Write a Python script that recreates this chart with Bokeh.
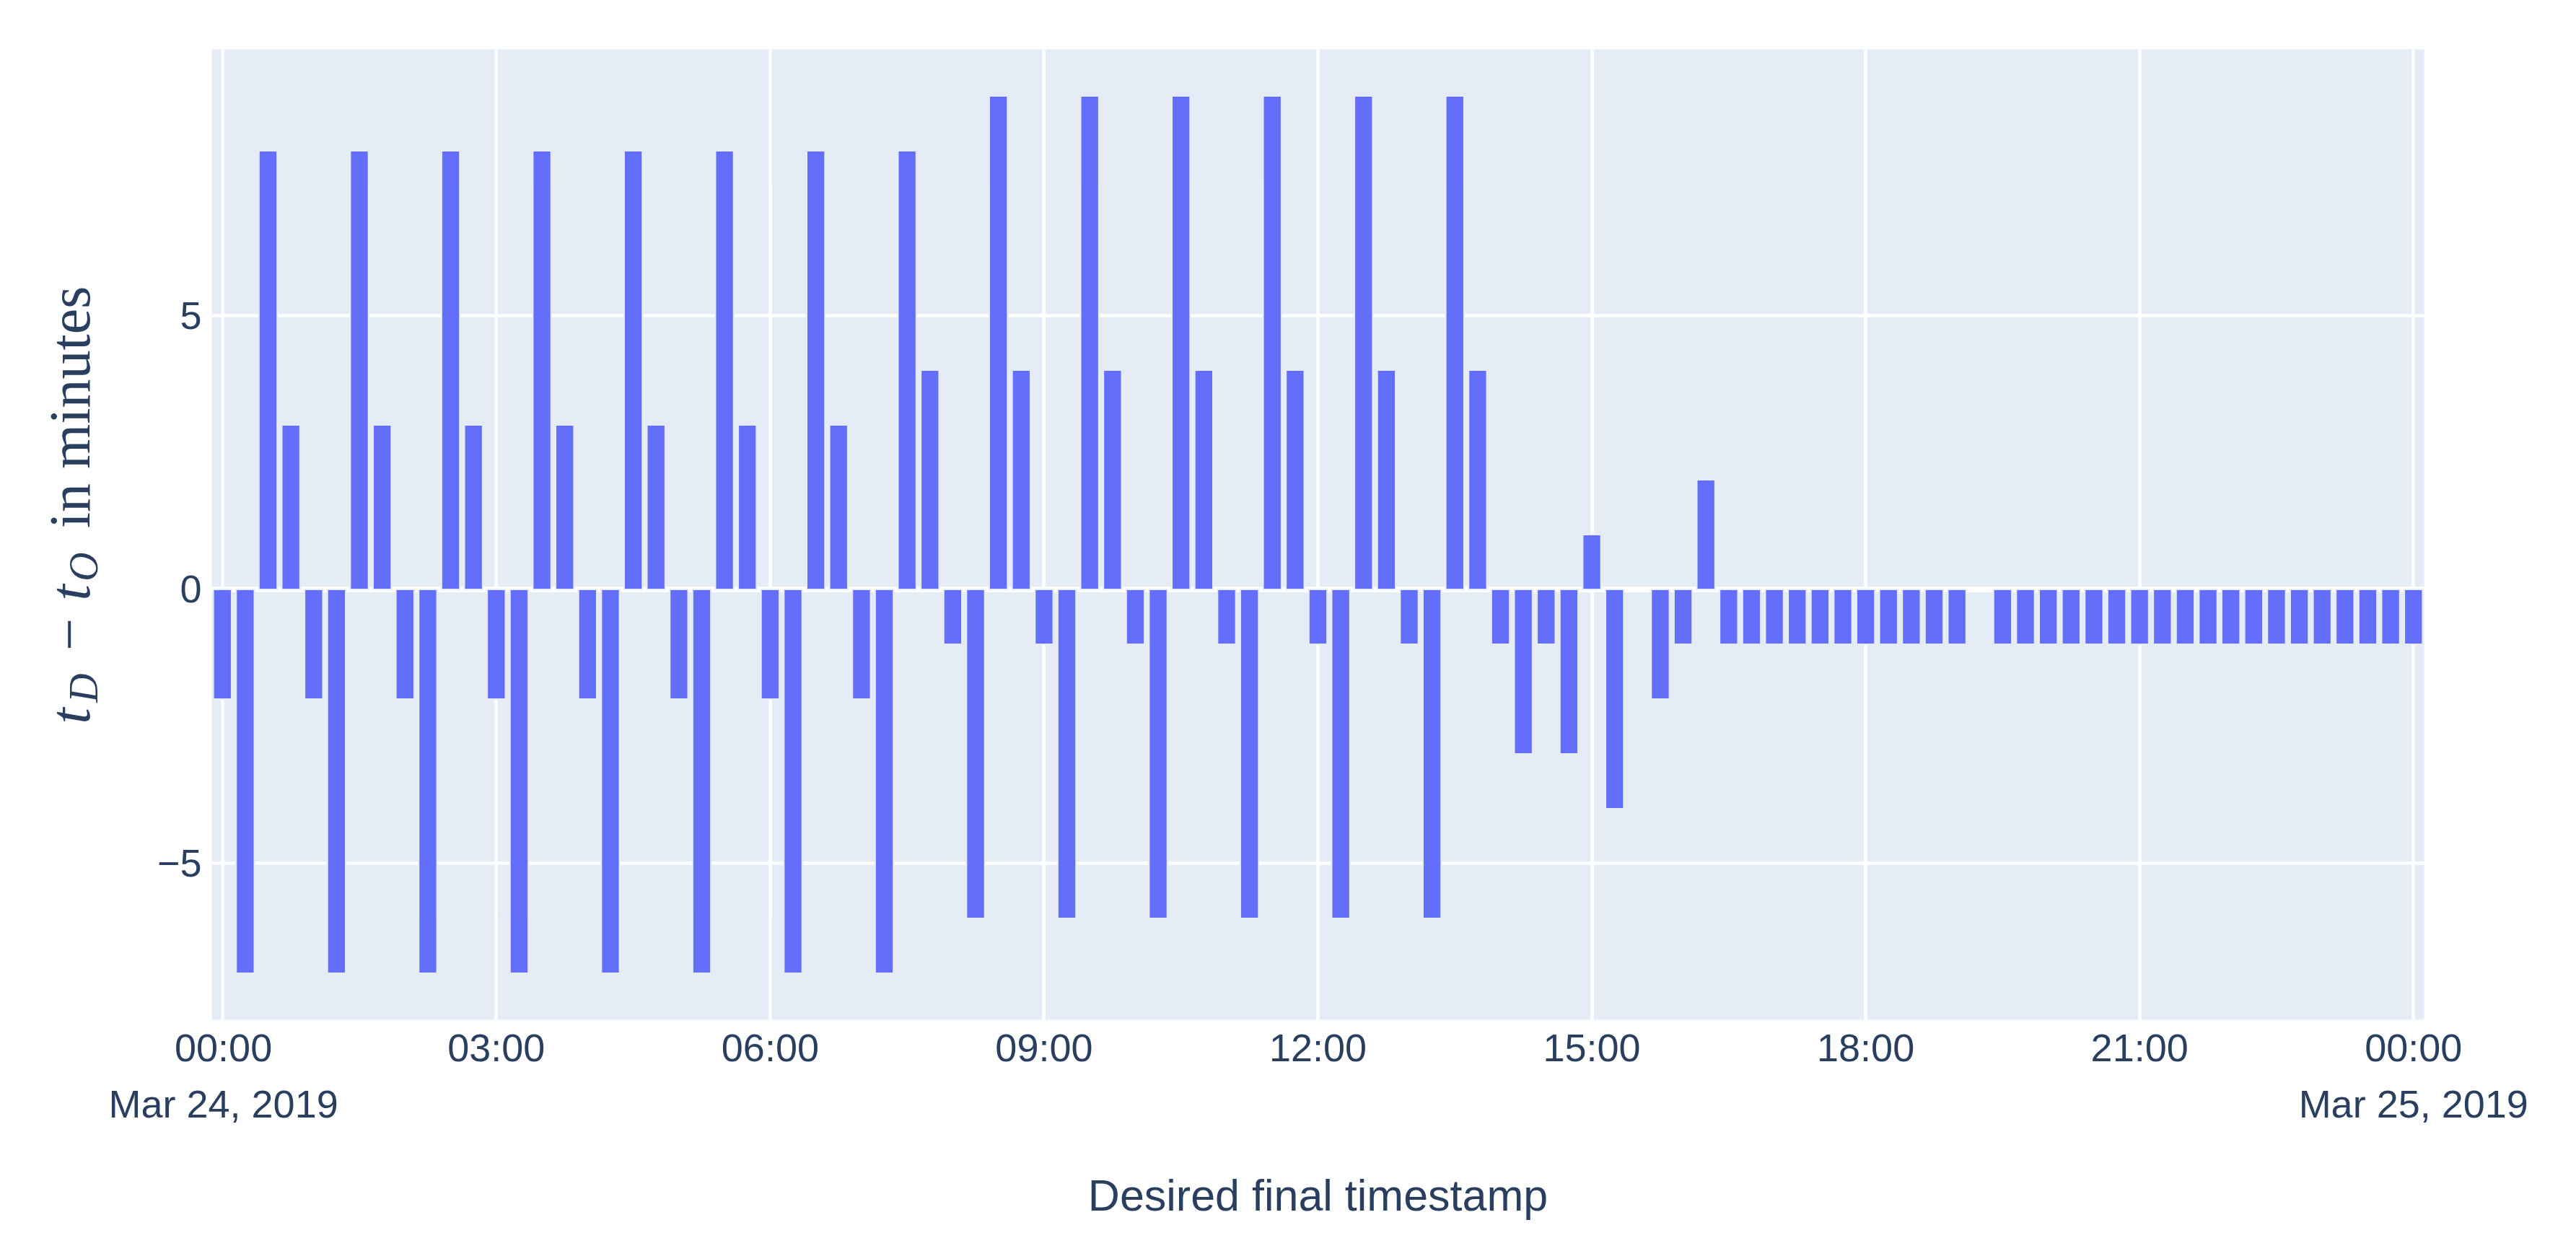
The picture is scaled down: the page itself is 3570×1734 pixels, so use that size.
import pandas as pd
from math import pi
from bokeh.plotting import figure
from bokeh.layouts import row
from bokeh.models import FixedTicker, Range1d, Span, ColumnDataSource
from bokeh.core.properties import value
from bokeh.embed import file_html
from bokeh.resources import INLINE

# ---------------- data ----------------
start = "2019-03-24 00:00"
end = "2019-03-25 00:00"
times = pd.date_range(start, end, freq="15min")   # 97 slots, one bar every 15 minutes

# t_D - t_O in minutes, one value per 15-minute slot (None = no bar)
delay_minutes = [
    -2, -7, 8, 3,   -2, -7, 8, 3,   -2, -7, 8, 3,     # 00:00 - 02:45
    -2, -7, 8, 3,   -2, -7, 8, 3,   -2, -7, 8, 3,     # 03:00 - 05:45
    -2, -7, 8, 3,   -2, -7, 8, 4,   -1, -6, 9, 4,     # 06:00 - 08:45
    -1, -6, 9, 4,   -1, -6, 9, 4,   -1, -6, 9, 4,     # 09:00 - 11:45
    -1, -6, 9, 4,   -1, -6, 9, 4,   -1, -3, -1, -3,   # 12:00 - 14:45
    1, -4, None, -2,   -1, 2, -1, -1,   -1, -1, -1, -1,  # 15:00 - 17:45
    -1, -1, -1, -1,   -1, None, -1, -1,   -1, -1, -1, -1,  # 18:00 - 20:45
    -1, -1, -1, -1,   -1, -1, -1, -1,   -1, -1, -1, -1,  # 21:00 - 23:45
    -1,                                                # 00:00 next day
]

x_tick_times = pd.date_range(start, end, freq="3h")
x_tick_labels = ["00:00\nMar 24, 2019", "03:00", "06:00", "09:00", "12:00",
                 "15:00", "18:00", "21:00", "00:00\nMar 25, 2019"]
y_ticks = [-5, 0, 5]
y_tick_labels = ["\u22125", "0", "5"]

# ---------------- build ----------------
def ms(ts):
    return float(ts.value // 10**6)

bar_x = [ms(t) for t, v in zip(times, delay_minutes) if v is not None]
bar_top = [v for v in delay_minutes if v is not None]
src = ColumnDataSource(dict(x=bar_x, top=bar_top))

x_tick_ms = [ms(t) for t in x_tick_times]
pad = 7 * 60 * 1000
x0 = ms(times[0]) - pad
x1 = ms(times[-1]) + pad

FONT = "Liberation Sans"
SERIF = "Liberation Serif"
TXT = "#2a3f5f"
H = 1726
TOP, BOTTOM = 68, 313
LW = 150   # width of the strip holding the y-axis title

p = figure(width=3562 - LW, height=H, x_axis_type="datetime",
           output_backend="svg", toolbar_location=None,
           x_range=Range1d(x0, x1), y_range=Range1d(-7.85, 9.85),
           min_border_left=293 - LW, min_border_right=203,
           min_border_top=TOP, min_border_bottom=BOTTOM)

p.background_fill_color = "#E5ECF6"
p.border_fill_color = "white"
p.outline_line_color = None

# grid
p.xgrid.ticker = FixedTicker(ticks=x_tick_ms)
p.ygrid.ticker = FixedTicker(ticks=[-5, 5])
for g in (p.xgrid, p.ygrid):
    g.grid_line_color = "white"
    g.grid_line_width = 4.5
p.add_layout(Span(location=0, dimension="width", line_color="white",
                  line_width=8, level="underlay"))

# bars
p.vbar(x="x", top="top", bottom=0, width=12 * 60 * 1000, source=src,
       fill_color="#636EFA", line_color="#E5ECF6", line_width=2)

# x axis
xa = p.xaxis[0]
xa.ticker = FixedTicker(ticks=x_tick_ms)
xa.major_label_overrides = dict(zip(x_tick_ms, x_tick_labels))
xa.axis_label = "Desired final timestamp"
xa.axis_label_text_font = FONT
xa.axis_label_text_font_size = "61px"
xa.axis_label_text_font_style = "normal"
xa.axis_label_text_color = TXT
xa.axis_label_standoff = 60
xa.major_label_standoff = 8
xa.major_label_text_line_height = 1.3

# y axis
ya = p.yaxis[0]
ya.ticker = FixedTicker(ticks=y_ticks)
ya.major_label_overrides = dict(zip([float(v) for v in y_ticks], y_tick_labels))
ya.major_label_standoff = 14

for ax in (xa, ya):
    ax.axis_line_color = None
    ax.major_tick_line_color = None
    ax.minor_tick_line_color = None
    ax.major_tick_out = 0
    ax.major_tick_in = 0
    ax.major_label_text_font = FONT
    ax.major_label_text_font_size = "54px"
    ax.major_label_text_color = TXT

# ---------------- y-axis title strip: t_D - t_O in minutes ----------------
# same top/bottom borders as the main plot, so the frames line up; the
# y range is set so that a data y equals (H - pixel row from the top)
t = figure(width=LW, height=H, output_backend="svg", toolbar_location=None,
           x_range=Range1d(0, LW), y_range=Range1d(BOTTOM, H - TOP),
           x_axis_location=None, y_axis_location=None,
           min_border_left=0, min_border_right=0,
           min_border_top=TOP, min_border_bottom=BOTTOM)
t.outline_line_color = None
t.grid.visible = False
t.background_fill_color = "white"
t.border_fill_color = "white"

# pieces anchored at the centre of their text box (pixels from top-left)
pieces = [
    # text, x-centre, y-centre, size, style
    ("t", 96, 992, "80px", "italic"),
    ("D", 115, 953, "56px", "italic"),
    ("\u2212", 96, 879, "80px", "normal"),
    ("t", 96, 821, "80px", "italic"),
    ("O", 115, 785, "56px", "italic"),
    ("in minutes", 96, 564, "80px", "normal"),
]
for txt, cx, cy, size, style in pieces:
    t.text(x=[cx], y=[H - cy], text=[txt], angle=pi / 2,
           text_font=value(SERIF), text_font_size=value(size),
           text_font_style=style, text_color=TXT,
           text_align="center", text_baseline="middle")

layout = row(t, p)
open("out.html", "w").write(file_html(layout, INLINE))
